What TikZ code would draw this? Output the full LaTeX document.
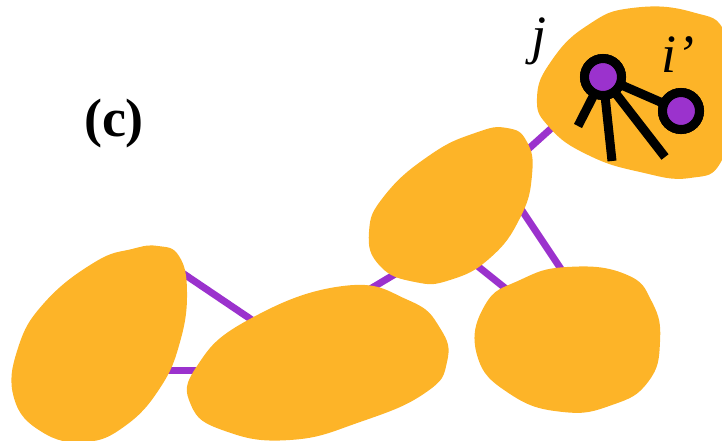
\documentclass[tikz,border=0pt]{standalone}
\usepackage{fontspec}
\setmainfont{Liberation Serif}
\definecolor{blobc}{RGB}{253,180,40}
\definecolor{edgec}{RGB}{155,50,205}
\tikzset{
  blob/.style={fill=blobc},
  link/.style={draw=edgec,line width=7pt},
  leg/.style={draw=black,line width=9pt},
  vert/.style={circle,draw=black,fill=edgec,line width=9pt,minimum size=37pt,inner sep=0pt},
  lab/.style={inner sep=0pt,anchor=base,font=\fontsize{54}{54}\selectfont},
}
\begin{document}
\begin{tikzpicture}[x=1pt,y=-1pt]
\useasboundingbox (0,0) rectangle (722,440);
\clip (0,0) rectangle (722,440);
% connector end points
\coordinate (A1) at (175,268);
\coordinate (B1) at (255,322);
\coordinate (A2) at (160,370);
\coordinate (B2) at (200,370);
\coordinate (B3) at (355,298);
\coordinate (C1) at (412,264);
\coordinate (C2) at (470,260);
\coordinate (D1) at (510,292);
\coordinate (C3) at (515,200);
\coordinate (D2) at (565,275);
\coordinate (C4) at (525,152);
\coordinate (E1) at (555,125);
\draw[link] (A1) -- (B1);
\draw[link] (A2) -- (B2);
\draw[link] (B3) -- (C1);
\draw[link] (C2) -- (D1);
\draw[link] (C3) -- (D2);
\draw[link] (C4) -- (E1);
% blobs
\fill[blob] plot[smooth cycle, tension=0.75] coordinates {(158,246) (179,256) (187,292) (180,342) (160,388) (125,426) (85,442) (42,432) (14,398) (18,348) (45,302) (95,262) (132,249)};
\fill[blob] plot[smooth cycle, tension=0.8] coordinates {(343,286) (408,300) (440,328) (447,362) (425,393) (360,422) (290,440) (225,431) (191,405) (197,366) (248,320)};
\fill[blob] plot[smooth cycle, tension=0.8] coordinates {(507,128) (527,142) (532,175) (520,218) (490,258) (450,280) (415,282) (380,266) (369,232) (385,195) (430,155) (475,133)};
\fill[blob] plot[smooth cycle, tension=0.8] coordinates {(567,267) (625,274) (652,302) (660,342) (648,382) (612,405) (563,412) (510,394) (477,355) (485,305) (520,280)};
\fill[blob] plot[smooth cycle, tension=0.8] coordinates {(632,8) (692,12) (726,35) (732,100) (722,160) (690,178) (640,172) (588,155) (550,128) (537,98) (552,60) (588,25)};
% glyph
\coordinate (L1) at (578,126);
\coordinate (L2) at (612,161);
\coordinate (L3) at (665,157);
\node[vert] (j) at (603,77) {};
\node[vert] (ip) at (681,111) {};
\draw[leg] (j.center) -- (L1);
\draw[leg] (j.center) -- (L2);
\draw[leg] (j.center) -- (L3);
\draw[leg] (j.center) -- (ip.center);
\node[vert] at (j.center) {};
\node[vert] at (ip.center) {};
% labels
\node[lab] (lj) at (539,53) {\textit{j}};
\node[lab] (li) at (678,72) {\textit{i’}};
\node[lab] (lc) at (114,136) {\textbf{(c)}};
\end{tikzpicture}
\end{document}
